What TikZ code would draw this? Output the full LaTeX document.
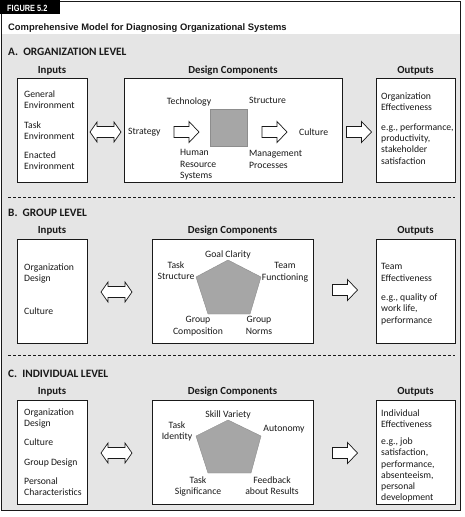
\documentclass[tikz,border=0pt]{standalone}
\usepackage{fontspec}
\setmainfont{Carlito}
\newfontfamily\titlefont{Liberation Sans}
\definecolor{bggray}{RGB}{229,229,229}
\definecolor{shapegray}{RGB}{166,166,166}
\definecolor{ink}{RGB}{25,25,25}
\begin{document}
\begin{tikzpicture}[x=1pt,y=-1pt,
  box/.style={draw=ink, line width=0.7pt, fill=white},
  body/.style={font=\fontsize{9.7}{11.3}\selectfont, text=ink, inner sep=0pt},
  lt/.style={body, align=left, anchor=north west},
  ct/.style={body, align=center, anchor=north},
  colhead/.style={font=\bfseries\fontsize{10.8}{12}\selectfont, text=ink, inner sep=0pt, anchor=base},
  levelhead/.style={font=\bfseries\fontsize{11.3}{12}\selectfont, text=ink, inner sep=0pt, anchor=base west},
  arrowline/.style={draw=ink, line width=0.7pt, fill=white, line join=miter},
  blockarrowpic/.pic={\path[arrowline] (-12.5,-5.5) -- (2.5,-5.5) -- (2.5,-10.5) -- (12.5,0) -- (2.5,10.5) -- (2.5,5.5) -- (-12.5,5.5) -- cycle;},
  dblarrowpic/.pic={\path[arrowline] (-15.5,0) -- (-8.5,-10) -- (-8.5,-5.5) -- (8.5,-5.5) -- (8.5,-10) -- (15.5,0) -- (8.5,10) -- (8.5,5.5) -- (-8.5,5.5) -- (-8.5,10) -- cycle;},
  sepline/.style={draw=ink, line width=0.6pt, dash pattern=on 3pt off 2pt},
  pent/.style={fill=shapegray, draw=shapegray!85!black, line width=0.4pt}
]
\useasboundingbox (0,0) rectangle (465,517);
% frame
\fill[bggray] (1.5,34) rectangle (460.5,510.5);
\fill[white] (1.5,1.5) rectangle (460.5,34);
\draw[ink, line width=1.3pt] (1.5,1.5) rectangle (460.5,510.5);
\fill[black] (0,0) rectangle (60,13.5);
\node[inner sep=0pt, text=white, font=\titlefont\bfseries\fontsize{9}{10}\selectfont, anchor=base west] (fig) at (7,11) {\scalebox{0.82}[1]{FIGURE 5.2}};
\node[inner sep=0pt, text=ink, font=\titlefont\bfseries\fontsize{9.4}{11}\selectfont, anchor=base west] (title) at (8,30) {Comprehensive Model for Diagnosing Organizational Systems};

% ===== A =====
\node[levelhead] (hA) at (8,55.5) {A.\ \ ORGANIZATION LEVEL};
\node[colhead] (inA) at (52,73.5) {Inputs};
\node[colhead] (dcA) at (233,73.5) {Design Components};
\node[colhead] (outA) at (415.5,73.5) {Outputs};
\draw[box] (17,78) rectangle (87,182);
\node[lt] (a1) at (24,90.5) {General\\Environment};
\node[lt] (a2) at (24,121.5) {Task\\Environment};
\node[lt] (a3) at (24,151.5) {Enacted\\Environment};
\pic (daA) at (105.5,132) {dblarrowpic};
\draw[box] (124,78) rectangle (342,182);
\node[minimum size=37pt, inner sep=0pt, fill=shapegray, draw=shapegray!85!black, line width=0.4pt] (sq) at (228.5,127.5) {};
\node[ct] (tech) at (189,97.5) {Technology};
\node[lt] (struct) at (249,97.5) {Structure};
\node[lt] (strat) at (128,128.5) {Strategy};
\pic (arA1) at (186.5,132) {blockarrowpic};
\node[lt] (hrs) at (180,149.5) {Human\\Resource\\Systems};
\pic (arA2) at (274.5,132) {blockarrowpic};
\node[lt] (cultA) at (299,128.5) {Culture};
\node[lt] (mgmt) at (249,150.5) {Management\\Processes};
\pic (oaA) at (359,132) {blockarrowpic};
\draw[box] (376,78) rectangle (455,182);
\node[lt] (oA1) at (381,92.5) {Organization\\Effectiveness};
\node[lt] (oA2) at (381,123.5) {e.g., performance,\\productivity,\\stakeholder\\satisfaction};

\draw[sepline] (8,197) -- (455,197);

% ===== B =====
\node[levelhead] (hB) at (8,216) {B.\ \ GROUP LEVEL};
\node[colhead] (inB) at (52,233.5) {Inputs};
\node[colhead] (dcB) at (232.5,233.5) {Design Components};
\node[colhead] (outB) at (415.5,233.5) {Outputs};
\draw[box] (17,239) rectangle (87,343);
\node[lt] (b1) at (24,263.5) {Organization\\Design};
\node[lt] (b2) at (24,307.5) {Culture};
\pic (daB) at (116.5,292) {dblarrowpic};
\draw[box] (152,239) rectangle (313,343);
\draw[pent] (228,260) -- (261,277) -- (250,314) -- (208,314) -- (196,277) -- cycle;
\node[ct] (gc) at (228,250.5) {Goal Clarity};
\node[ct] (ts) at (176,261.5) {Task\\Structure};
\node[ct] (tf) at (285,262.5) {Team\\Functioning};
\node[ct] (gcomp) at (198,316.5) {Group\\Composition};
\node[ct] (gn) at (259,316.5) {Group\\Norms};
\pic (oaB) at (345,290) {blockarrowpic};
\draw[box] (376,239) rectangle (455,343);
\node[lt] (oB1) at (381,263.5) {Team\\Effectiveness};
\node[lt] (oB2) at (381,293.5) {e.g., quality of\\work life,\\performance};

\draw[sepline] (8,355) -- (455,355);

% ===== C =====
\node[levelhead] (hC) at (8,377) {C.\ \ INDIVIDUAL LEVEL};
\node[colhead] (inC) at (52,394) {Inputs};
\node[colhead] (dcC) at (232.5,394) {Design Components};
\node[colhead] (outC) at (415.5,394) {Outputs};
\draw[box] (17,400) rectangle (87,504);
\node[lt] (c1) at (24,408.5) {Organization\\Design};
\node[lt] (c2) at (24,438.5) {Culture};
\node[lt] (c3) at (24,458.5) {Group Design};
\node[lt] (c4) at (24,477.5) {Personal\\Characteristics};
\pic (daC) at (116.5,453) {dblarrowpic};
\draw[box] (152,400) rectangle (313,504);
\draw[pent] (228,420) -- (261,436) -- (251,473) -- (208,473) -- (196,436) -- cycle;
\node[ct] (sv) at (228,410.5) {Skill Variety};
\node[ct] (ti) at (177,421.5) {Task\\Identity};
\node[ct] (au) at (284,425.5) {Autonomy};
\node[ct] (tsig) at (198,476.5) {Task\\Significance};
\node[ct] (fb) at (272,476.5) {Feedback\\about Results};
\pic (oaC) at (345,453) {blockarrowpic};
\draw[box] (376,400) rectangle (455,504);
\node[lt] (oC1) at (381,409.5) {Individual\\Effectiveness};
\node[lt] (oC2) at (381,437.5) {e.g., job\\satisfaction,\\performance,\\absenteeism,\\personal\\development};
\end{tikzpicture}
\end{document}
